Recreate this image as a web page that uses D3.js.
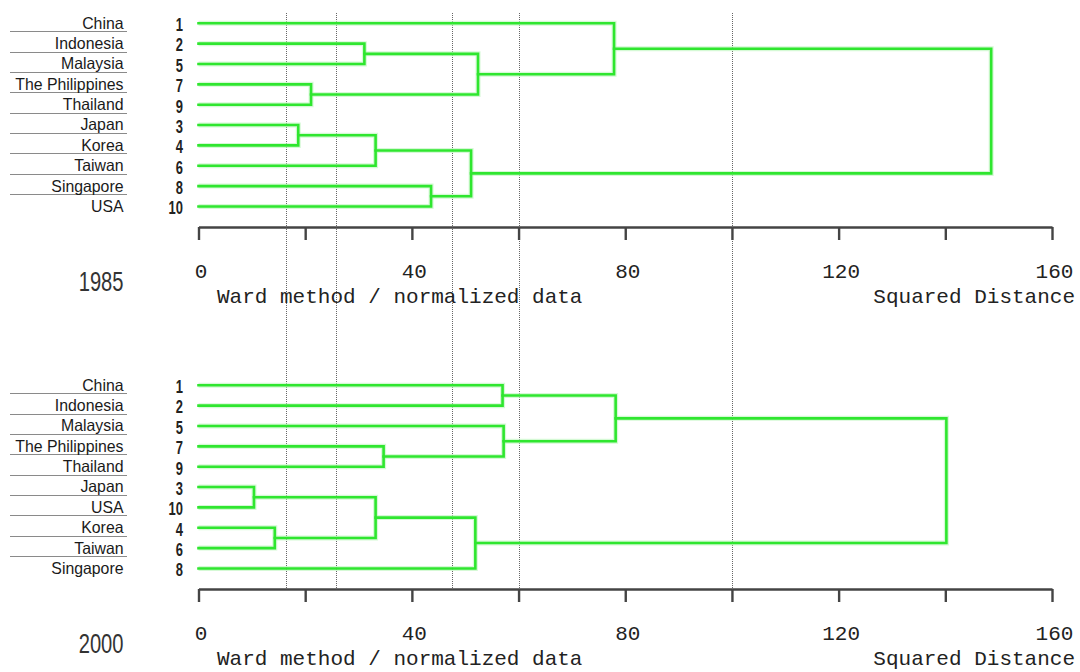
<!DOCTYPE html>
<html>
<head>
<meta charset="utf-8">
<script src="https://cdn.jsdelivr.net/npm/d3@7/dist/d3.min.js"></script>
<style>
  html, body { margin: 0; padding: 0; background: #fff; }
  svg { display: block; }
</style>
</head>
<body>
<svg id="chart" width="1080" height="672"></svg>
<script>
// ---- data ---------------------------------------------------------------
const years = ["1985", "2000"];

const countries1985 = ["China", "Indonesia", "Malaysia", "The Philippines", "Thailand",
                       "Japan", "Korea", "Taiwan", "Singapore", "USA"];
const ids1985 = [1, 2, 5, 7, 9, 3, 4, 6, 8, 10];
// [left, right, height]; 0-9 are leaves (row order), 10+ are earlier merges
const merges1985 = [
  [5, 6, 18.7],
  [3, 4, 21.1],
  [1, 2, 31.1],
  [10, 7, 33.2],
  [8, 9, 43.6],
  [13, 14, 51.1],
  [12, 11, 52.4],
  [0, 16, 77.9],
  [17, 15, 148.6]
];

const countries2000 = ["China", "Indonesia", "Malaysia", "The Philippines", "Thailand",
                       "Japan", "USA", "Korea", "Taiwan", "Singapore"];
const ids2000 = [1, 2, 5, 7, 9, 3, 10, 4, 6, 8];
const merges2000 = [
  [5, 6, 10.4],
  [7, 8, 14.3],
  [10, 11, 33.2],
  [3, 4, 34.7],
  [12, 9, 51.9],
  [0, 1, 57.0],
  [2, 13, 57.2],
  [15, 16, 78.2],
  [17, 14, 140.2]
];

// cut levels marked with dotted guide lines
const cutLevels = [16.4, 25.7, 47.5, 60, 100];
const tickValues = [0, 20, 40, 60, 80, 100, 120, 140, 160];
const axisTitle = "Ward method / normalized data";
const axisUnit = "Squared Distance";

const panels = [
  { year: years[0], names: countries1985, ids: ids1985, merges: merges1985 },
  { year: years[1], names: countries2000, ids: ids2000, merges: merges2000 }
];

// ---- layout -------------------------------------------------------------
const svg = d3.select("#chart");
const x = d3.scaleLinear().domain([0, 160]).range([198.5, 1052]);
const panelOffset = 362;
const firstRow = 23.3;
const rowStep = 20.35;
const axisGap = 203.7;   // from first row to axis line
const green = "#2fe62f";
const monoFont = "'Liberation Mono', 'DejaVu Sans Mono', monospace";
const sansFont = "'Liberation Sans', Arial, sans-serif";

// dotted guides spanning both panels
svg.append("g")
  .selectAll("line")
  .data(cutLevels)
  .join("line")
  .attr("x1", d => Math.round(x(d)) + 0.5)
  .attr("x2", d => Math.round(x(d)) + 0.5)
  .attr("y1", 13)
  .attr("y2", firstRow + panelOffset + axisGap)
  .attr("stroke", "#666")
  .attr("stroke-width", 1)
  .attr("stroke-dasharray", "1,1");

panels.forEach((p, pi) => {
  const top = firstRow + pi * panelOffset;
  const g = svg.append("g");
  const y = d3.scaleLinear().domain([0, 1]).range([top, top + rowStep]);
  const axisY = top + axisGap;

  // label separators
  g.append("g")
    .selectAll("line")
    .data(p.names.slice(0, -1))
    .join("line")
    .attr("x1", 10).attr("x2", 127)
    .attr("y1", (d, i) => Math.round(y(i) + 8) + 0.5)
    .attr("y2", (d, i) => Math.round(y(i) + 8) + 0.5)
    .attr("stroke", "#8a8a8a")
    .attr("stroke-width", 1);

  // country names
  g.append("g")
    .selectAll("text")
    .data(p.names)
    .join("text")
    .attr("transform", (d, i) => `translate(123.5,${y(i) + 5.4}) scale(0.96,1)`)
    .attr("text-anchor", "end")
    .attr("font-family", sansFont)
    .attr("font-size", 16.5)
    .attr("fill", "#1a1a1a")
    .text(d => d);

  // case numbers
  g.append("g")
    .selectAll("text")
    .data(p.ids)
    .join("text")
    .attr("transform", (d, i) => `translate(183,${y(i) + 7.8}) scale(0.74,1)`)
    .attr("text-anchor", "end")
    .attr("font-family", sansFont)
    .attr("font-weight", "bold")
    .attr("font-size", 17.5)
    .attr("fill", "#222")
    .text(d => d);

  // build node positions: leaves then merges
  const nodes = p.names.map((n, i) => ({ h: 0, y: y(i) }));
  const links = [];
  p.merges.forEach(([a, b, h]) => {
    const na = nodes[a], nb = nodes[b];
    links.push({ a: na, b: nb, h });
    nodes.push({ h, y: (na.y + nb.y) / 2 });
  });

  const path = d =>
    `M${x(d.a.h)},${d.a.y}H${x(d.h)}V${d.b.y}H${x(d.b.h)}`;

  // soft halo under the tree lines
  g.append("g")
    .selectAll("path")
    .data(links)
    .join("path")
    .attr("d", path)
    .attr("fill", "none")
    .attr("stroke", "#b9f5b9")
    .attr("stroke-width", 5)
    .attr("stroke-opacity", 0.6);

  g.append("g")
    .selectAll("path")
    .data(links)
    .join("path")
    .attr("d", path)
    .attr("fill", "none")
    .attr("stroke", green)
    .attr("stroke-width", 2.6)
    .attr("stroke-linecap", "square");

  // distance axis
  const axis = d3.axisBottom(x)
    .tickValues(tickValues)
    .tickSize(13)
    .tickSizeOuter(0)
    .tickFormat(d => (d % 40 === 0 ? d : ""));

  const ax = g.append("g")
    .attr("transform", `translate(0,${axisY})`)
    .call(axis);
  ax.select(".domain")
    .attr("stroke", "#444")
    .attr("stroke-width", 2.6);
  ax.selectAll(".tick line")
    .attr("stroke", "#444")
    .attr("stroke-width", 2.4);
  ax.selectAll(".tick text")
    .attr("y", 51)
    .attr("dy", 0)
    .attr("dx", 2)
    .attr("fill", "#222")
    .attr("font-family", monoFont)
    .attr("font-size", 21);

  g.append("text")
    .attr("x", 217)
    .attr("y", axisY + 76)
    .attr("font-family", monoFont)
    .attr("font-size", 21)
    .attr("fill", "#222")
    .text(axisTitle);

  g.append("text")
    .attr("x", 1075)
    .attr("y", axisY + 76)
    .attr("text-anchor", "end")
    .attr("font-family", monoFont)
    .attr("font-size", 21)
    .attr("fill", "#222")
    .text(axisUnit);

  // year
  g.append("text")
    .attr("transform", `translate(123.5,${axisY + 63.5}) scale(0.72,1)`)
    .attr("text-anchor", "end")
    .attr("font-family", sansFont)
    .attr("font-size", 28)
    .attr("fill", "#333")
    .text(p.year);
});
</script>
</body>
</html>
